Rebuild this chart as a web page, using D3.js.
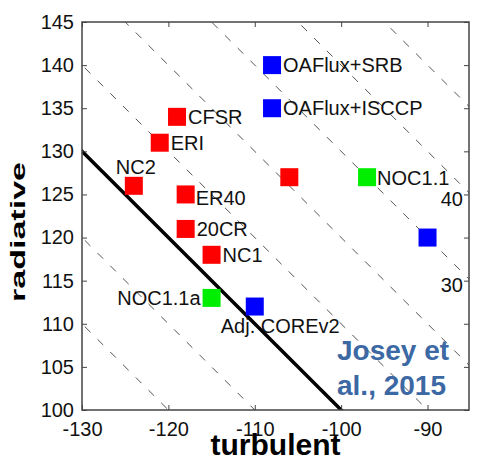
<!DOCTYPE html>
<html>
<head>
<meta charset="utf-8">
<script src="https://cdn.jsdelivr.net/npm/d3@7"></script>
<style>
  body { margin: 0; background: #fff; }
  text { font-family: "Liberation Sans", Arial, sans-serif; }
</style>
</head>
<body>
<div id="chart"></div>
<script>
// données (W/m2)
const products = ["CFSR", "ERI", "NC2", "ER40", "20CR", "NC1", "",
  "OAFlux+SRB", "OAFlux+ISCCP", "", "Adj. COREv2", "NOC1.1", "NOC1.1a"]
const turbulent = [-119, -121, -124, -118, -118, -115, -106, -108, -108, -90, -110, -97, -115]
const radiative = [134, 131, 126, 125, 121, 118, 127, 140, 135, 120, 112, 127, 113]
const kind = ["rea", "rea", "rea", "rea", "rea", "rea", "rea",
  "obs", "obs", "obs", "obs", "noc", "noc"]

// lignes de flux net constant (radiatif + turbulent)
const netLevels = [-20, -10, 10, 20, 30, 40, 50]
const netLabelled = [40, 30]

const xTicks = [-130, -120, -110, -100, -90]
const yTicks = [100, 105, 110, 115, 120, 125, 130, 135, 140, 145]

const W = 487, H = 462
const margin = { top: 22, right: 18, bottom: 52, left: 82 }
const width = W - margin.left - margin.right
const height = H - margin.top - margin.bottom

const svg = d3.select("#chart").append("svg")
  .attr("width", W).attr("height", H)

const g = svg.append("g")
  .attr("transform", "translate(" + margin.left + "," + margin.top + ")")

const x = d3.scaleLinear().domain([-130, -85.2]).range([0, width])
const y = d3.scaleLinear().domain([100, 145]).range([height, 0])

const color = d3.scaleOrdinal().domain(["rea", "obs", "noc"])
  .range(["#ff0000", "#0000ff", "#00ee00"])

g.append("clipPath").attr("id", "clip")
  .append("rect").attr("width", width).attr("height", height)

// lignes pointillées
const line = d3.line().x(d => x(d[0])).y(d => y(d[1]))
const lines = g.append("g").attr("clip-path", "url(#clip)")
netLevels.forEach(c => {
  lines.append("path")
    .attr("d", line([[-140, c + 140], [-75, c + 75]]))
    .attr("fill", "none")
    .attr("stroke", "#555")
    .attr("stroke-width", 1)
    .attr("stroke-dasharray", "8,10")
})
// flux net nul
lines.append("path")
  .attr("d", line([[-140, 140], [-75, 75]]))
  .attr("fill", "none")
  .attr("stroke", "#000")
  .attr("stroke-width", 3.5)

netLabelled.forEach(c => {
  g.append("text")
    .attr("x", x(-85.2) - 6)
    .attr("y", y(c + 85.2) + 13)
    .attr("text-anchor", "end")
    .attr("font-size", 20)
    .attr("fill", "#111")
    .text(c)
})

// axes (graduations vers l'intérieur)
const axisStyle = sel => {
  sel.select(".domain").remove()
  sel.selectAll(".tick line").attr("stroke", "#444")
  sel.selectAll(".tick text").attr("font-size", 20).attr("fill", "#111")
    .style("font-family", "'Liberation Sans', Arial, sans-serif")
}
const fmt = d => String(d)
g.append("g").attr("transform", "translate(0," + height + ")")
  .call(d3.axisBottom(x).tickValues(xTicks).tickFormat(fmt).tickSizeInner(-5).tickSizeOuter(0).tickPadding(12))
  .call(axisStyle)
g.append("g")
  .call(d3.axisTop(x).tickValues(xTicks).tickSizeInner(-5).tickSizeOuter(0).tickFormat(""))
  .call(axisStyle)
g.append("g")
  .call(d3.axisLeft(y).tickValues(yTicks).tickFormat(fmt).tickSizeInner(-5).tickSizeOuter(0).tickPadding(8))
  .call(axisStyle)
g.append("g").attr("transform", "translate(" + width + ",0)")
  .call(d3.axisRight(y).tickValues(yTicks).tickSizeInner(-5).tickSizeOuter(0).tickFormat(""))
  .call(axisStyle)

g.append("rect")
  .attr("width", width).attr("height", height)
  .attr("fill", "none").attr("stroke", "#444").attr("stroke-width", 1.5)

// carrés
const s = 18
const pts = d3.range(products.length)
g.append("g").selectAll("rect").data(pts).join("rect")
  .attr("x", i => x(turbulent[i]) - s / 2)
  .attr("y", i => y(radiative[i]) - s / 2)
  .attr("width", s).attr("height", s)
  .attr("fill", i => color(kind[i]))

// étiquettes
const place = {
  "NC2": [-18, -12, "start"],
  "ER40": [10, 11, "start"],
  "NOC1.1": [10, 8, "start"],
  "NOC1.1a": [-11, 7, "end"],
  "Adj. COREv2": [-34, 26, "start"]
}
g.append("g").selectAll("text").data(pts.filter(i => products[i] !== "")).join("text")
  .attr("x", i => x(turbulent[i]) + (place[products[i]] ? place[products[i]][0] : 11))
  .attr("y", i => y(radiative[i]) + (place[products[i]] ? place[products[i]][1] : 7))
  .attr("text-anchor", i => place[products[i]] ? place[products[i]][2] : "start")
  .attr("font-size", 20)
  .attr("fill", "#111")
  .text(i => products[i])

// titres
svg.append("text")
  .attr("x", margin.left + width / 2)
  .attr("y", 455)
  .attr("text-anchor", "middle")
  .attr("font-size", 30).attr("font-weight", "bold")
  .text("turbulent")

svg.append("text")
  .attr("transform", "translate(25,232) rotate(-90)")
  .attr("text-anchor", "middle")
  .attr("font-size", 21).attr("font-weight", "bold")
  .attr("textLength", 140).attr("lengthAdjust", "spacingAndGlyphs")
  .text("radiative")

const ref = svg.append("text")
  .attr("font-size", 28).attr("font-weight", "bold")
  .attr("fill", "#3c68a4")
ref.append("tspan").attr("x", 337).attr("y", 360).text("Josey et")
ref.append("tspan").attr("x", 337).attr("y", 395).text("al., 2015")
</script>
</body>
</html>
